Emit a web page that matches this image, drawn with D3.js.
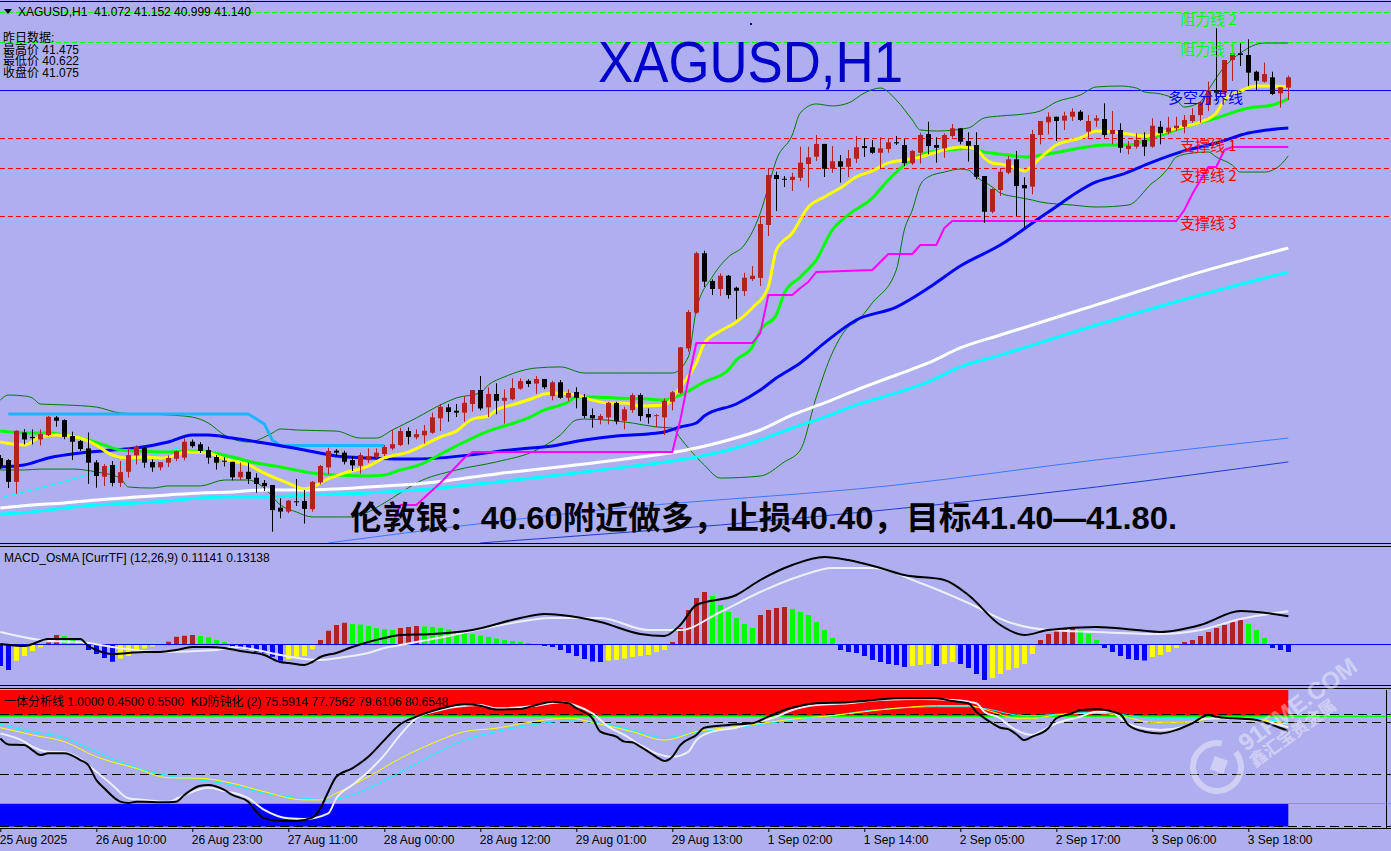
<!DOCTYPE html>
<html><head><meta charset="utf-8">
<script src="https://cdn.jsdelivr.net/npm/d3@7"></script>
<style>body{margin:0;background:#AFAFEF;overflow:hidden}svg{display:block}</style>
</head><body>
<svg id="c" width="1391" height="851"></svg>
<script>
// ---------------- DATA ----------------
const tickIdx=[0,12,24,36,48,60,72,84,96,108,120,132,144,156];
const tickLabels=["25 Aug 2025","26 Aug 10:00","26 Aug 23:00","27 Aug 11:00","28 Aug 00:00","28 Aug 12:00","29 Aug 01:00","29 Aug 13:00","1 Sep 02:00","1 Sep 14:00","2 Sep 05:00","2 Sep 17:00","3 Sep 06:00","3 Sep 18:00"];

const open=[38.635,38.622,38.479,38.804,38.775,38.758,38.787,38.903,38.885,38.780,38.747,38.699,38.607,38.513,38.590,38.472,38.545,38.653,38.701,38.609,38.574,38.605,38.631,38.638,38.743,38.726,38.688,38.642,38.618,38.611,38.509,38.545,38.506,38.472,38.458,38.309,38.283,38.351,38.353,38.299,38.475,38.574,38.684,38.671,38.622,38.585,38.622,38.644,38.662,38.699,38.721,38.813,38.772,38.785,38.802,38.897,38.969,38.947,38.934,38.991,39.083,38.969,39.057,39.012,39.022,39.092,39.144,39.125,39.156,39.043,39.134,39.032,39.070,39.035,38.918,38.890,38.903,38.999,38.881,38.951,39.050,38.925,38.912,38.903,39.006,39.065,39.357,39.592,39.983,39.800,39.748,39.835,39.756,39.734,39.813,39.821,40.169,40.498,40.473,40.465,40.480,40.570,40.618,40.702,40.539,40.588,40.552,40.605,40.688,40.680,40.644,40.669,40.713,40.695,40.575,40.644,40.767,40.695,40.673,40.754,40.805,40.721,40.695,40.491,40.256,40.399,40.513,40.601,40.432,40.421,40.761,40.844,40.881,40.855,40.881,40.914,40.783,40.855,40.866,40.767,40.794,40.669,40.684,40.728,40.684,40.815,40.779,40.805,40.815,40.853,40.892,40.958,41.057,41.039,41.254,41.298,41.287,41.177,41.112,41.140,41.035,41.072];
const high=[38.655,38.628,38.819,38.826,38.824,38.824,38.912,38.912,38.890,38.809,38.754,38.804,38.622,38.596,38.616,38.616,38.699,38.719,38.710,38.627,38.609,38.653,38.684,38.765,38.758,38.741,38.710,38.655,38.640,38.611,38.605,38.605,38.535,38.491,38.458,38.371,38.360,38.498,38.425,38.484,38.590,38.703,38.694,38.684,38.649,38.671,38.699,38.699,38.721,38.819,38.835,38.837,38.824,38.853,38.934,38.991,38.991,38.991,39.043,39.083,39.175,39.101,39.127,39.087,39.160,39.160,39.154,39.175,39.156,39.144,39.149,39.087,39.101,39.057,38.962,38.925,39.006,39.006,38.973,39.061,39.061,38.962,38.925,39.028,39.076,39.366,39.610,39.993,40.000,39.811,39.851,39.840,39.763,39.855,39.899,40.228,40.542,40.519,40.491,40.513,40.684,40.684,40.761,40.702,40.688,40.629,40.662,40.754,40.739,40.728,40.746,40.739,40.754,40.733,40.662,40.776,40.848,40.746,40.772,40.833,40.805,40.779,40.779,40.491,40.410,40.542,40.623,40.656,40.483,40.794,40.853,40.910,40.881,40.914,40.937,40.925,40.892,40.892,40.969,40.919,40.838,40.721,40.772,40.779,40.871,40.853,40.881,40.881,40.892,40.937,40.985,41.112,41.463,41.254,41.353,41.364,41.390,41.184,41.237,41.177,41.075,41.152];
const low=[38.569,38.445,38.407,38.732,38.732,38.725,38.787,38.848,38.766,38.629,38.688,38.472,38.447,38.458,38.456,38.452,38.513,38.600,38.578,38.552,38.561,38.583,38.622,38.627,38.710,38.675,38.605,38.566,38.587,38.496,38.496,38.472,38.413,38.425,38.157,38.246,38.279,38.327,38.211,38.289,38.469,38.535,38.655,38.600,38.557,38.539,38.611,38.640,38.655,38.695,38.721,38.732,38.765,38.737,38.802,38.820,38.881,38.912,38.881,38.947,38.956,38.912,38.930,38.868,39.022,39.092,39.109,39.065,39.095,39.022,39.032,39.017,38.969,38.903,38.842,38.864,38.864,38.864,38.831,38.940,38.885,38.868,38.846,38.793,38.956,39.063,39.342,39.592,39.767,39.715,39.708,39.690,39.555,39.708,39.807,39.774,40.103,40.267,40.425,40.399,40.465,40.421,40.596,40.491,40.519,40.454,40.491,40.583,40.623,40.644,40.542,40.651,40.702,40.563,40.570,40.579,40.640,40.585,40.618,40.750,40.706,40.592,40.476,40.190,40.252,40.366,40.509,40.235,40.158,40.377,40.706,40.772,40.728,40.800,40.860,40.860,40.750,40.822,40.750,40.706,40.651,40.640,40.677,40.629,40.684,40.706,40.772,40.794,40.779,40.848,40.848,40.925,40.991,41.035,41.123,41.221,41.090,41.057,41.112,41.031,40.947,40.999];
const close=[38.582,38.479,38.815,38.758,38.766,38.793,38.907,38.881,38.775,38.743,38.695,38.605,38.517,38.583,38.472,38.543,38.655,38.710,38.605,38.574,38.609,38.636,38.680,38.743,38.714,38.682,38.638,38.605,38.614,38.509,38.545,38.498,38.465,38.451,38.293,38.283,38.355,38.347,38.301,38.479,38.583,38.682,38.671,38.611,38.587,38.655,38.649,38.671,38.708,38.727,38.813,38.775,38.793,38.815,38.903,38.973,38.938,38.934,38.999,39.083,38.962,39.057,39.012,39.032,39.096,39.142,39.123,39.156,39.101,39.134,39.032,39.065,39.032,38.912,38.897,38.912,38.999,38.877,38.956,39.050,38.912,38.903,38.918,39.012,39.068,39.364,39.596,39.983,39.796,39.748,39.835,39.708,39.736,39.822,39.835,40.175,40.498,40.471,40.469,40.486,40.579,40.614,40.702,40.539,40.588,40.552,40.608,40.680,40.675,40.644,40.673,40.713,40.706,40.575,40.656,40.761,40.688,40.677,40.761,40.805,40.717,40.690,40.486,40.256,40.406,40.519,40.601,40.425,40.410,40.767,40.853,40.881,40.853,40.888,40.914,40.860,40.853,40.871,40.761,40.794,40.677,40.690,40.728,40.684,40.822,40.772,40.809,40.822,40.860,40.892,40.976,41.057,41.039,41.254,41.298,41.287,41.171,41.118,41.162,41.031,41.075,41.140];

// moving averages [barIndex, price]
const maYellow=[[0,38.741],[3,38.721],[5,38.774],[7,38.787],[10,38.767],[12,38.721],[14,38.655],[16,38.636],[18,38.642],[20,38.636],[22,38.655],[23,38.675],[26,38.669],[28,38.629],[31,38.590],[33,38.537],[36,38.471],[38,38.432],[39,38.445],[41,38.498],[43,38.537],[46,38.583],[48,38.636],[51,38.675],[55,38.774],[57,38.813],[59,38.892],[61,38.912],[62,38.952],[64,38.985],[67,39.037],[68,39.057],[70,39.064],[72,39.050],[74,39.017],[76,38.998],[78,38.998],[80,38.978],[83,38.985],[85,39.103],[87,39.261],[88,39.392],[90,39.471],[92,39.531],[94,39.623],[96,39.761],[97,40.004],[99,40.116],[101,40.287],[103,40.353],[105,40.412],[107,40.485],[109,40.524],[111,40.577],[113,40.596],[115,40.616],[117,40.649],[119,40.675],[120,40.682],[122,40.669],[123,40.610],[124,40.577],[125,40.570],[127,40.544],[128,40.524],[130,40.610],[132,40.695],[135,40.741],[137,40.787],[139,40.781],[141,40.767],[143,40.754],[145,40.774],[147,40.807],[150,40.846],[152,40.906],[153,40.991],[155,41.050],[157,41.083],[159,41.083],[161,41.077]];
const maLime=[[0,38.813],[3,38.800],[6,38.800],[8,38.787],[11,38.754],[13,38.721],[15,38.688],[17,38.682],[21,38.675],[23,38.682],[26,38.675],[29,38.642],[32,38.603],[35,38.577],[39,38.537],[42,38.524],[46,38.517],[48,38.524],[50,38.557],[52,38.583],[56,38.688],[58,38.741],[61,38.813],[63,38.846],[66,38.899],[68,38.952],[71,39.004],[72,39.037],[74,39.037],[77,39.031],[81,39.024],[83,39.017],[85,39.050],[88,39.136],[91,39.215],[92,39.281],[94,39.366],[95,39.478],[97,39.577],[98,39.721],[100,39.827],[102,39.939],[104,40.136],[106,40.235],[109,40.346],[111,40.465],[113,40.563],[115,40.629],[117,40.656],[120,40.669],[121,40.675],[123,40.649],[126,40.629],[128,40.616],[131,40.636],[135,40.675],[138,40.695],[141,40.695],[144,40.741],[148,40.813],[152,40.873],[156,40.938],[159,40.958],[161,40.998]];
const maBlue=[[0,38.577],[3,38.590],[6,38.636],[10,38.669],[14,38.688],[17,38.702],[21,38.741],[24,38.787],[26,38.787],[29,38.767],[33,38.734],[38,38.688],[42,38.649],[46,38.636],[50,38.629],[52,38.629],[65,38.695],[69,38.715],[73,38.754],[77,38.781],[81,38.794],[83,38.807],[85,38.840],[87,38.866],[88,38.912],[92,38.991],[95,39.083],[97,39.162],[100,39.261],[103,39.392],[107,39.544],[112,39.629],[116,39.754],[120,39.899],[125,40.037],[131,40.254],[137,40.452],[140,40.498],[144,40.583],[148,40.656],[152,40.708],[156,40.774],[161,40.807]];
const maWhite=[[0,38.307],[4,38.327],[8,38.340],[12,38.360],[17,38.379],[21,38.393],[25,38.406],[29,38.412],[33,38.425],[38,38.425],[42,38.432],[46,38.445],[50,38.458],[52,38.465],[62,38.531],[75,38.610],[87,38.702],[91,38.754],[95,38.820],[99,38.919],[103,38.998],[107,39.083],[112,39.182],[116,39.261],[120,39.360],[125,39.445],[137,39.643],[150,39.859],[161,40.017]];
const maCyan=[[0,38.267],[4,38.281],[8,38.307],[12,38.327],[17,38.340],[21,38.353],[25,38.373],[29,38.379],[33,38.379],[38,38.393],[42,38.399],[46,38.406],[50,38.419],[52,38.425],[62,38.478],[75,38.557],[87,38.642],[91,38.688],[95,38.754],[99,38.833],[103,38.905],[107,38.985],[112,39.064],[116,39.136],[120,39.235],[125,39.313],[137,39.511],[150,39.708],[161,39.860]];
const bbUpper=[[0,39.017],[1,39.050],[3,39.044],[4,39.031],[5,38.991],[8,38.985],[12,38.971],[15,38.932],[21,38.919],[24,38.905],[26,38.866],[28,38.787],[31,38.741],[34,38.800],[35,38.827],[37,38.820],[42,38.813],[45,38.767],[47,38.767],[49,38.820],[52,38.899],[55,38.985],[57,39.031],[60,39.064],[61,39.116],[63,39.169],[67,39.228],[70,39.235],[73,39.195],[77,39.195],[81,39.195],[84,39.195],[86,39.300],[87,39.610],[89,39.827],[91,39.958],[93,40.037],[95,40.248],[96,40.419],[97,40.596],[99,40.761],[100,40.906],[102,40.965],[104,40.952],[106,40.971],[108,41.037],[110,41.070],[112,40.991],[114,40.860],[115,40.794],[117,40.787],[121,40.807],[123,40.873],[125,40.886],[128,40.899],[130,40.919],[132,40.978],[135,41.024],[137,41.077],[140,41.083],[142,41.070],[143,41.044],[145,41.031],[147,40.991],[148,40.945],[150,40.978],[151,41.057],[153,41.208],[155,41.300],[158,41.366],[161,41.366]];
const bbLower=[[0,38.557],[3,38.557],[5,38.563],[9,38.563],[12,38.544],[15,38.504],[16,38.445],[19,38.438],[21,38.452],[25,38.452],[28,38.491],[31,38.491],[33,38.438],[35,38.327],[37,38.281],[39,38.248],[42,38.248],[44,38.248],[46,38.281],[48,38.340],[50,38.406],[52,38.471],[57,38.557],[62,38.610],[67,38.688],[70,38.787],[72,38.886],[73,38.892],[79,38.866],[82,38.840],[84,38.833],[85,38.767],[86,38.702],[88,38.590],[90,38.504],[95,38.517],[98,38.610],[100,38.688],[102,39.037],[104,39.327],[106,39.498],[107,39.531],[109,39.656],[112,39.873],[113,40.136],[114,40.267],[115,40.432],[116,40.485],[118,40.517],[120,40.537],[121,40.530],[122,40.485],[124,40.419],[125,40.379],[127,40.353],[129,40.333],[130,40.320],[134,40.300],[137,40.287],[141,40.300],[144,40.445],[145,40.485],[146,40.544],[147,40.616],[149,40.642],[151,40.649],[152,40.616],[154,40.563],[155,40.517],[158,40.517],[160,40.563],[161,40.623]];
const stopMagenta=[[49,38.195],[50,38.327],[52,38.327],[55,38.471],[58,38.636],[59,38.675],[84,38.675],[85,38.886],[86,39.149],[87,39.392],[94,39.392],[95,39.458],[96,39.708],[99,39.708],[100,39.754],[101,39.794],[102,39.860],[109,39.873],[111,39.978],[114,39.978],[115,40.037],[117,40.037],[118,40.149],[119,40.195],[147,40.195],[148,40.267],[149,40.373],[151,40.550],[152,40.550],[153,40.662],[154,40.682],[161,40.682]];
const stepSky=[[1,38.925],[31,38.925],[33,38.860],[34,38.754],[35,38.718],[48,38.718]];
const thinCyan=[[0,38.373],[10,38.511],[17,38.622],[23,38.715]];
const thinBlueLight=[[41,38.077],[75,38.294],[112,38.458],[137,38.623],[161,38.767]];
const thinBlueDark=[[60,38.077],[100,38.241],[137,38.445],[161,38.610]];

const levelValues=[41.570,41.373,41.057,40.741,40.544,40.228];
const levelNames=["阻力线 2","阻力线 1","多空分界线","支撑线 1","支撑线 2","支撑线 3"];

// MACD_OsMA
const osma=[-0.088,-0.104,-0.067,-0.048,-0.028,-0.013,0.006,0.036,0.032,0.016,0.006,-0.024,-0.040,-0.056,-0.071,-0.058,-0.048,-0.032,-0.018,-0.010,-0.004,0.009,0.029,0.033,0.036,0.032,0.027,0.016,0.008,-0.012,-0.017,-0.024,-0.031,-0.037,-0.051,-0.067,-0.061,-0.051,-0.048,-0.021,0.016,0.053,0.076,0.085,0.080,0.078,0.072,0.063,0.059,0.056,0.064,0.068,0.072,0.070,0.068,0.064,0.058,0.052,0.046,0.040,0.034,0.028,0.022,0.016,0.012,0.008,0.004,-0.004,-0.008,-0.012,-0.024,-0.036,-0.048,-0.060,-0.070,-0.072,-0.066,-0.064,-0.058,-0.052,-0.048,-0.044,-0.032,-0.024,0.008,0.064,0.136,0.184,0.208,0.192,0.156,0.128,0.104,0.080,0.064,0.116,0.136,0.144,0.148,0.140,0.128,0.116,0.088,0.056,0.024,-0.024,-0.032,-0.036,-0.048,-0.064,-0.072,-0.080,-0.084,-0.092,-0.088,-0.084,-0.080,-0.088,-0.080,-0.072,-0.080,-0.096,-0.120,-0.144,-0.136,-0.120,-0.104,-0.096,-0.080,-0.040,0.016,0.040,0.056,0.064,0.068,0.056,0.040,0.016,-0.016,-0.032,-0.048,-0.060,-0.064,-0.066,-0.052,-0.044,-0.032,-0.016,0.008,0.016,0.032,0.048,0.064,0.076,0.088,0.096,0.080,0.056,0.024,-0.016,-0.024,-0.032];
const macdLine=[[0,0.000],[3,-0.008],[6,0.020],[10,0.020],[11,-0.008],[12,-0.024],[14,-0.040],[16,-0.036],[18,-0.032],[20,-0.032],[22,-0.024],[24,-0.012],[26,-0.012],[28,-0.016],[30,-0.028],[33,-0.044],[35,-0.072],[36,-0.076],[38,-0.084],[39,-0.072],[40,-0.052],[42,-0.036],[44,-0.012],[46,0.008],[48,0.024],[50,0.036],[54,0.040],[59,0.056],[65,0.104],[68,0.120],[70,0.116],[75,0.088],[80,0.040],[83,0.032],[85,0.076],[87,0.156],[92,0.196],[95,0.256],[99,0.316],[103,0.348],[106,0.336],[110,0.304],[113,0.276],[118,0.256],[121,0.196],[125,0.076],[128,0.036],[131,0.056],[137,0.068],[142,0.056],[145,0.048],[150,0.076],[155,0.132],[161,0.111]];
const signalLine=[[0,0.048],[5,0.016],[11,0.004],[14,-0.012],[20,-0.032],[27,-0.024],[29,-0.012],[32,-0.024],[35,-0.044],[38,-0.060],[40,-0.064],[43,-0.052],[46,-0.036],[48,-0.016],[50,-0.004],[56,0.032],[62,0.072],[69,0.104],[75,0.104],[81,0.056],[85,0.056],[90,0.128],[95,0.208],[100,0.272],[104,0.304],[109,0.304],[115,0.244],[121,0.164],[126,0.088],[131,0.056],[137,0.048],[145,0.040],[150,0.056],[155,0.100],[161,0.131]];

// KD
const kdBlack=[[0,71.3],[1,67.8],[3,67.4],[4,64.5],[5,61.6],[6,62.6],[8,62.6],[10,58.7],[11,55.8],[12,47.1],[13,42.3],[15,34.5],[16,33.7],[17,34.5],[18,34.5],[20,34.1],[22,34.5],[23,38.4],[25,43.8],[26,44.2],[28,41.3],[29,38.4],[31,34.5],[32,28.7],[33,24.8],[35,23.3],[37,23.3],[39,25.2],[40,30.6],[41,40.3],[42,49.0],[44,53.9],[46,60.6],[48,70.3],[50,79.5],[52,83.9],[54,87.2],[56,89.7],[58,91.1],[60,90.3],[62,88.1],[65,88.4],[67,90.7],[69,92.6],[71,91.7],[72,88.8],[74,83.0],[75,75.2],[77,72.3],[78,69.4],[79,69.0],[80,66.5],[82,60.6],[83,58.1],[84,60.6],[85,67.4],[87,73.3],[88,77.5],[91,79.1],[94,80.1],[96,83.9],[98,87.8],[100,90.3],[102,91.7],[106,92.3],[108,93.0],[112,94.6],[117,94.6],[119,93.0],[121,91.7],[122,86.8],[124,80.1],[125,77.5],[126,76.7],[127,73.7],[128,70.3],[129,72.3],[131,77.2],[132,83.0],[134,85.9],[135,87.8],[137,88.2],[140,85.3],[141,79.1],[143,75.2],[145,74.2],[147,76.2],[149,80.1],[151,84.9],[152,83.9],[154,83.0],[157,82.0],[159,79.1],[161,75.6]];
const kdWhite=[[0,74.2],[3,69.4],[4,66.5],[6,63.5],[8,63.2],[10,59.3],[12,51.9],[14,44.2],[16,36.5],[18,35.5],[21,34.5],[23,38.4],[26,42.6],[28,40.7],[31,36.5],[33,29.7],[36,24.8],[38,24.4],[41,27.7],[42,36.5],[44,44.2],[46,51.9],[48,61.6],[50,73.3],[52,83.0],[55,87.8],[57,89.7],[60,90.7],[62,88.8],[67,90.3],[70,92.3],[72,90.3],[74,85.9],[76,78.1],[78,73.3],[80,67.4],[82,62.6],[84,60.6],[86,63.5],[87,70.3],[89,75.2],[92,77.5],[94,80.1],[97,83.9],[99,87.8],[102,90.7],[106,91.7],[110,93.6],[115,94.2],[119,93.6],[122,91.7],[123,86.8],[125,83.0],[126,79.1],[129,73.3],[130,75.2],[132,80.1],[135,83.9],[137,86.8],[139,86.8],[140,83.0],[142,78.1],[145,76.2],[148,78.1],[150,82.4],[153,83.0],[156,82.0],[159,80.1],[161,77.8]];
const kdYellow=[[0,77.5],[4,73.3],[8,69.4],[12,60.6],[17,53.9],[21,48.4],[25,48.1],[29,45.2],[33,40.3],[38,35.5],[40,35.5],[42,39.4],[46,49.0],[50,59.7],[54,68.4],[58,75.2],[62,77.2],[67,81.4],[71,83.0],[75,79.5],[79,75.2],[83,70.3],[87,75.2],[92,78.1],[96,80.6],[100,83.0],[104,84.5],[108,86.8],[112,88.8],[117,90.3],[121,90.3],[124,86.8],[127,83.0],[129,83.0],[132,84.9],[137,85.9],[140,84.5],[144,80.6],[148,80.6],[152,83.0],[156,82.6],[161,79.6]];
const kdCyan=[[0,79.5],[4,75.2],[8,71.7],[12,63.5],[17,54.2],[21,49.6],[25,47.1],[29,44.2],[33,39.4],[38,36.5],[41,35.5],[44,38.4],[46,42.3],[50,51.6],[54,61.6],[58,70.3],[62,75.2],[67,79.5],[71,81.4],[75,80.1],[79,76.2],[83,71.7],[87,74.8],[92,77.5],[96,80.1],[100,82.6],[104,84.5],[108,87.2],[112,88.8],[117,89.7],[121,89.7],[124,87.8],[127,84.9],[129,84.5],[132,85.3],[137,86.5],[140,85.3],[144,83.0],[148,83.0],[152,83.3],[156,83.0],[161,80.6]];
const kdZoneHigh=[84.5,100];
const kdZoneLow=[20,33.5];
const kdLevels=[85,80,50,20];

// ---------------- DRAW ----------------
const W=1391,H=851,BG='#AFAFEF';
const svg=d3.select('#c');
svg.append('rect').attr('width',W).attr('height',H).attr('fill',BG);
const defs=svg.append('defs');
function clip(id,y0,y1){defs.append('clipPath').attr('id',id).append('rect').attr('x',0).attr('y',y0).attr('width',W).attr('height',y1-y0);}
clip('cMain',2,543);clip('cMacd',547,685);clip('cKd',690,827);

const x=d3.scaleLinear().domain([0,161]).range([0.3,1288.3]);
const yMain=d3.scaleLinear().domain([38.0766,41.649]).range([543,0]);
const yMacd=d3.scaleLinear().domain([0,0.1]).range([644,619]);
const yKd=d3.scaleLinear().domain([0,100]).range([861,689]);

const main=svg.append('g').attr('clip-path','url(#cMain)');
const lvlColor=['#00FF00','#00FF00','#0000FF','#FF0000','#FF0000','#FF0000'];
levelValues.forEach((v,k)=>{
  const yy=Math.round(yMain(v))+0.5;
  main.append('line').attr('x1',0).attr('x2',W).attr('y1',yy).attr('y2',yy)
   .attr('stroke',lvlColor[k]).attr('stroke-width',1).attr('stroke-dasharray',k===2?null:'5,3');
});
function drawLine(g,data,yS,color,w,curve){
  g.append('path').datum(data).attr('fill','none').attr('stroke',color).attr('stroke-width',w)
   .attr('stroke-linejoin','round')
   .attr('d',d3.line().x(d=>x(d[0])).y(d=>yS(d[1])).curve(curve||d3.curveMonotoneX));
}
drawLine(main,thinBlueLight,yMain,'#3C78FF',1);
drawLine(main,thinBlueDark,yMain,'#1E3CC8',1);
drawLine(main,thinCyan,yMain,'#00FFFF',1);
drawLine(main,bbUpper,yMain,'#007A00',1);
drawLine(main,bbLower,yMain,'#007A00',1);
drawLine(main,maCyan,yMain,'#00FFFF',3);
drawLine(main,maWhite,yMain,'#FFFFFF',3);
drawLine(main,stepSky,yMain,'#1EB4FF',3,d3.curveLinear);
drawLine(main,maBlue,yMain,'#0000FF',3);
drawLine(main,maLime,yMain,'#00FF00',3);
drawLine(main,maYellow,yMain,'#FFFF00',3);
drawLine(main,stopMagenta,yMain,'#FF00FF',2,d3.curveLinear);

// candles
const idx=d3.range(open.length);
const cg=main.append('g');
const cc=i=>close[i]>=open[i]?'#B22222':'#000000';
const cx=i=>Math.round(x(i))+0.5;
cg.selectAll('line.w').data(idx).join('line').attr('class','w')
  .attr('x1',cx).attr('x2',cx).attr('y1',i=>yMain(high[i])).attr('y2',i=>yMain(low[i])+1).attr('stroke',cc);
cg.selectAll('rect.b').data(idx).join('rect').attr('class','b')
  .attr('x',i=>cx(i)-2.5).attr('width',5)
  .attr('y',i=>yMain(Math.max(open[i],close[i])))
  .attr('height',i=>Math.max(1,yMain(Math.min(open[i],close[i]))-yMain(Math.max(open[i],close[i]))))
  .attr('fill',cc);

// level labels
const lblX=[1180,1180,1168,1180,1180,1180];
levelValues.forEach((v,k)=>{
  svg.append('text').attr('x',lblX[k]).attr('y',yMain(v)+13).text(levelNames[k])
    .attr('fill',lvlColor[k]).attr('font-family','"Noto Sans CJK SC",sans-serif').attr('font-size',15);
});

// title & notes
svg.append('text').attr('x',598).attr('y',82).text('XAGUSD,H1').attr('fill','#0000CD')
  .attr('font-family','"Liberation Sans",Arial,sans-serif').attr('font-size',58)
  .attr('textLength',305).attr('lengthAdjust','spacingAndGlyphs');
svg.append('rect').attr('x',750).attr('y',23).attr('width',2).attr('height',2).attr('fill','#0000CD');
svg.append('text').attr('x',350).attr('y',529).text('伦敦银：40.60附近做多，止损40.40，目标41.40—41.80.')
  .attr('fill','#000').attr('font-weight','bold').attr('font-size',32)
  .attr('font-family','"Liberation Sans","Noto Sans CJK SC",sans-serif')
  .attr('textLength',827).attr('lengthAdjust','spacingAndGlyphs');

// header top-left
svg.append('line').attr('x1',0).attr('x2',W).attr('y1',1.5).attr('y2',1.5).attr('stroke','#000');
svg.append('path').attr('d','M4,9 L12,9 L8,14 Z').attr('fill','#000');
const small='"Liberation Sans",Arial,sans-serif';
svg.append('text').attr('x',18).attr('y',16).text('XAGUSD,H1  41.072 41.152 40.999 41.140')
  .attr('font-family',small).attr('font-size',12).attr('fill','#000').style('white-space','pre');
['昨日数据:','最高价 41.475','最低价 40.622','收盘价 41.075'].forEach((t,k)=>{
  svg.append('text').attr('x',3).attr('y',42+k*11.5).text(t).attr('font-family','"Liberation Sans","Noto Sans CJK SC",sans-serif')
   .attr('font-size',12).attr('fill','#000');
});

// pane separators
[543.5,546.5,685.5,688.5].forEach(d=>{
  svg.append('line').attr('x1',0).attr('x2',W).attr('y1',d).attr('y2',d).attr('stroke','#000');
});

// MACD pane
const mp=svg.append('g').attr('clip-path','url(#cMacd)');
svg.append('text').attr('x',4).attr('y',562).text('MACD_OsMA [CurrTF] (12,26,9) 0.11141 0.13138')
  .attr('font-family',small).attr('font-size',12).attr('fill','#000');
const hcol=i=>{const v=osma[i],p=i>0?osma[i-1]:v;return v>=0?(v>=p?'#B22222':'#00FF00'):(v<=p?'#0000FF':'#FFFF00');};
mp.selectAll('rect.h').data(idx).join('rect').attr('class','h')
  .attr('x',i=>cx(i)-2.5).attr('width',5)
  .attr('y',i=>Math.min(yMacd(0),yMacd(osma[i])))
  .attr('height',i=>Math.abs(yMacd(osma[i])-yMacd(0)))
  .attr('fill',hcol);
mp.append('line').attr('x1',0).attr('x2',W).attr('y1',yMacd(0)+0.5).attr('y2',yMacd(0)+0.5).attr('stroke','#0000FF');
drawLine(mp,signalLine,yMacd,'#EEEEFA',2);
drawLine(mp,macdLine,yMacd,'#000000',2);

// KD pane
const kp=svg.append('g').attr('clip-path','url(#cKd)');
const xEnd=x(161);
kp.append('rect').attr('x',0).attr('width',xEnd).attr('y',yKd(kdZoneHigh[1])).attr('height',yKd(kdZoneHigh[0])-yKd(kdZoneHigh[1])).attr('fill','#FF0000');
kp.append('rect').attr('x',0).attr('width',xEnd).attr('y',yKd(kdZoneLow[1])).attr('height',yKd(kdZoneLow[0])-yKd(kdZoneLow[1])).attr('fill','#0000FF');
[kdZoneHigh[0],kdZoneLow[1]].forEach(v=>{
  kp.append('line').attr('x1',0).attr('x2',W).attr('y1',Math.round(yKd(v))+0.5).attr('y2',Math.round(yKd(v))+0.5).attr('stroke','#00FF00');
});
kdLevels.forEach(v=>{
  kp.append('line').attr('x1',0).attr('x2',W).attr('y1',Math.round(yKd(v))-0.5).attr('y2',Math.round(yKd(v))-0.5)
    .attr('stroke','#000').attr('stroke-dasharray','9,5');
});
// watermark
const wm=svg.append('g').attr('opacity',0.4);
wm.append('path').attr('d',d3.arc()({innerRadius:21,outerRadius:27,startAngle:0.9,endAngle:2*Math.PI+0.2})).attr('transform','translate(1217,767)').attr('fill','#FFFFFF');
wm.append('rect').attr('x',-7).attr('y',-7).attr('width',14).attr('height',14).attr('transform','translate(1219,765) rotate(20)').attr('fill','#FFFFFF');
wm.append('text').attr('transform','translate(1246,752) rotate(-36)').text('91FME.COM').attr('font-family',small).attr('font-weight','bold')
  .attr('font-size',24).attr('fill','#FFFFFF');
wm.append('text').attr('transform','translate(1255,768) rotate(-36)').text('鑫汇宝贵金属').attr('font-family','"Noto Sans CJK SC",sans-serif').attr('font-weight','bold')
  .attr('font-size',17).attr('fill','#FFFFFF');

drawLine(kp,kdCyan,yKd,'#00FFFF',1);
drawLine(kp,kdYellow,yKd,'#FFFF00',1);
drawLine(kp,kdWhite,yKd,'#EEEEFA',2);
drawLine(kp,kdBlack,yKd,'#000000',2);
svg.append('text').attr('x',4).attr('y',706).text('一体分析线 1.0000 0.4500 0.5500  KD防钝化 (2) 75.5914 77.7562 79.6106 80.6548')
  .attr('font-family','"Liberation Sans","Noto Sans CJK SC",sans-serif').attr('font-size',12).attr('fill','#000').style('white-space','pre');
svg.append('line').attr('x1',0).attr('x2',W).attr('y1',828.5).attr('y2',828.5).attr('stroke','#000');
svg.append('line').attr('x1',1386.5).attr('x2',1386.5).attr('y1',690).attr('y2',828).attr('stroke','#000');

// x axis
const ax=svg.append('g').attr('transform','translate(0,829)')
  .call(d3.axisBottom(x).tickValues(tickIdx).tickFormat((d,k)=>tickLabels[k]).tickSize(3).tickSizeOuter(0));
ax.select('.domain').remove();
ax.selectAll('.tick line').attr('stroke','#000');
ax.selectAll('.tick text').attr('text-anchor','start').attr('dx',-1).attr('y',6)
  .attr('font-family',small).attr('font-size',12).attr('fill','#000');
</script>
</body></html>
